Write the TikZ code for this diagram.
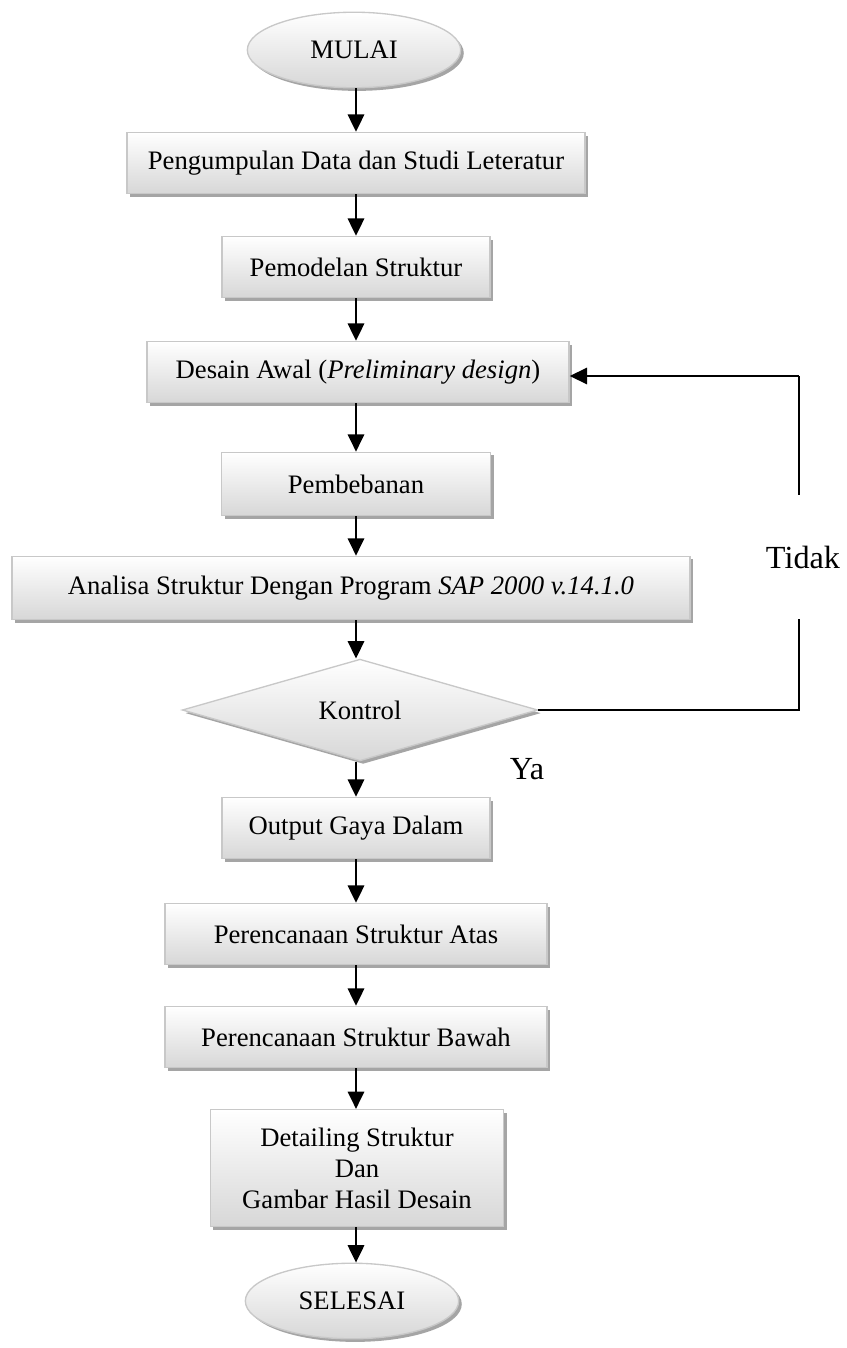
\documentclass[tikz,border=0pt]{standalone}
\usepackage{fontspec}
\setmainfont{Liberation Serif}
\usepackage{tikz}
\usetikzlibrary{arrows.meta,shapes.geometric,shadows}
\usepackage{xcolor}
\definecolor{ColEdge}{RGB}{200,200,200}
\definecolor{ColShade}{RGB}{215,215,215}
\definecolor{ColShadow}{RGB}{165,165,165}
\tikzstyle{Shaded}=[draw=ColEdge,line width=0.6pt,top color=white,bottom color=ColShade,
drop shadow={shadow xshift=1.4pt,shadow yshift=-1.4pt,fill=ColShadow,opacity=1},
font=\fontsize{12}{14}\selectfont,align=center,inner sep=2pt]
\tikzstyle{StepBox}=[Shaded,rectangle,minimum height=27.5pt]
\tikzstyle{StartEnd}=[Shaded,ellipse,minimum width=96pt,minimum height=34pt]
\tikzstyle{Decision}=[Shaded,diamond,minimum width=160pt,minimum height=42pt,inner sep=0pt]
\tikzstyle{FlowArrow}=[line width=0.85pt,-{Triangle[length=7.8pt,width=7.4pt]}]
\tikzstyle{FlowLine}=[line width=0.85pt]
\tikzstyle{Answer}=[font=\fontsize{14.5}{16}\selectfont,inner sep=1pt]

\begin{document}
\begin{tikzpicture}[x=0.45pt,y=-0.45pt]
        \useasboundingbox (0,0) rectangle (846,1348);
        \node[StartEnd](mulai)at(354,50){MULAI};
        \node[StepBox,minimum width=206pt](data)at(356,163){Pengumpulan Data dan Studi Leteratur};
        \node[StepBox,minimum width=120.6pt](model)at(356,267){Pemodelan Struktur};
        \node[StepBox,minimum width=190pt](awal)at(358,372){Desain Awal (\textit{Preliminary design})};
        \node[StepBox,minimum width=121pt,minimum height=28.5pt](beban)at(356,484){Pembebanan};
        \node[StepBox,minimum width=305pt,minimum height=28.5pt](analisa)at(351,588){Analisa Struktur Dengan Program \textit{SAP 2000 v.14.1.0}};
        \node[Decision](kontrol)at(360,710){Kontrol};
        \node[StepBox,minimum width=120.6pt](output)at(356,828){Output Gaya Dalam};
        \node[StepBox,minimum width=172pt](atas)at(356,934){Perencanaan Struktur Atas};
        \node[StepBox,minimum width=172pt](bawah)at(356,1037){Perencanaan Struktur Bawah};
        \node[StepBox,minimum width=132pt,minimum height=52.6pt,text depth=0pt](detail)at(357,1168){Detailing Struktur\\Dan\\Gambar Hasil Desain};
        \node[StartEnd](selesai)at(352,1301){SELESAI};
        \draw[FlowArrow](mulai.south -| data)--(data);
        \draw[FlowArrow](data)--(model);
        \draw[FlowArrow](model)--(model |- awal.north);
        \draw[FlowArrow](awal.south -| beban)--(beban);
        \draw[FlowArrow](beban)--(analisa.north -| beban);
        \draw[FlowArrow](analisa.south -| beban)--(kontrol.north -| beban);
        \draw[FlowArrow](kontrol.south -| output)--(output);
        \draw[FlowArrow](output)--(atas);
        \draw[FlowArrow](atas)--(bawah);
        \draw[FlowArrow](bawah)--(bawah |- detail.north);
        \draw[FlowArrow](detail.south -| bawah)--(selesai.north -| bawah);
        % feedback loop
        \coordinate(loopA)at(799,710);
        \coordinate(loopB)at(799,376);
        \draw[FlowLine](kontrol.east)--(loopA)--(loopB);
        \draw[FlowArrow](loopB)--(loopB -| awal.east);
        \node[Answer,fill=white,minimum height=56pt](tidak)at(803,557){Tidak};
        \node[Answer](ya)at(527,769){Ya};
    \end{tikzpicture}
\end{document}
